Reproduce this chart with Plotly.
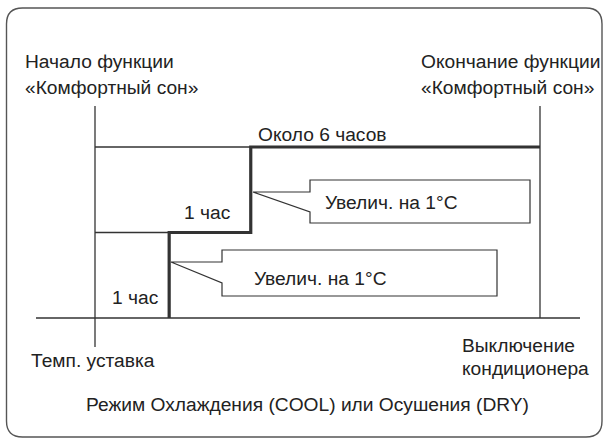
import plotly.graph_objects as go

# ---------------- data ----------------
function_start_h = 0.0          # start of "Comfort sleep"
function_end_h = 6.0            # end (about 6 hours)
step_hours = [1.0, 2.1]         # times of the +1°C rises
step_levels = [0, 1, 2]         # offset from set point, °C
duration_label = "Около 6 часов"
step_labels = ["1 час", "1 час"]
callout_text = "Увелич. на 1°C"

W, H = 607, 444
FONT = "Liberation Sans, Arial, sans-serif"
FS = 19.2
TXT = "#222222"
LINE = "#333333"

# axis scales: hours -> px, degrees -> px
X0, PXH = 95.0, (540.0 - 95.0) / 6.0
Y0, PXD = 318.0, (318.0 - 147.0) / 2.0
xr = [(0 - X0) / PXH, (W - X0) / PXH]
yr = [(Y0 - H) / PXD, Y0 / PXD]


def px(x):
    return x / W


def py(y):
    return 1 - y / H


def h_of(xpix):
    return (xpix - X0) / PXH


def d_of(ypix):
    return (Y0 - ypix) / PXD


fig = go.Figure()

sx = [step_hours[0], step_hours[0], step_hours[1], step_hours[1], function_end_h]
sy = [step_levels[0], step_levels[1], step_levels[1], step_levels[2], step_levels[2]]

thin = dict(color=LINE, width=1.3)
# baseline (set point)
fig.add_trace(go.Scatter(x=[h_of(36), h_of(580)], y=[step_levels[0]] * 2, mode="lines", line=thin, hoverinfo="skip"))
# start / end vertical lines
fig.add_trace(go.Scatter(x=[function_start_h] * 2, y=[d_of(106), d_of(347)], mode="lines", line=thin, hoverinfo="skip"))
fig.add_trace(go.Scatter(x=[function_end_h] * 2, y=[d_of(106), step_levels[0]], mode="lines", line=thin, hoverinfo="skip"))
# thin level guides
fig.add_trace(go.Scatter(x=[function_start_h, step_hours[0]], y=[step_levels[1]] * 2, mode="lines", line=thin, hoverinfo="skip"))
fig.add_trace(go.Scatter(x=[function_start_h, step_hours[1]], y=[step_levels[2]] * 2, mode="lines", line=thin, hoverinfo="skip"))
# thick step
fig.add_trace(go.Scatter(x=sx, y=sy, mode="lines", line=dict(color=LINE, width=3.2), hoverinfo="skip"))

shapes = []


def path(points, close=True):
    s = "M " + " L ".join(f"{px(x):.5f},{py(y):.5f}" for x, y in points)
    return s + (" Z" if close else "")


# rounded outer frame
l, t, r, b, rad = 6.5, 8.0, 602.0, 437.0, 16.0
frame = (
    f"M {px(l + rad):.5f},{py(t):.5f} L {px(r - rad):.5f},{py(t):.5f} "
    f"Q {px(r):.5f},{py(t):.5f} {px(r):.5f},{py(t + rad):.5f} "
    f"L {px(r):.5f},{py(b - rad):.5f} "
    f"Q {px(r):.5f},{py(b):.5f} {px(r - rad):.5f},{py(b):.5f} "
    f"L {px(l + rad):.5f},{py(b):.5f} "
    f"Q {px(l):.5f},{py(b):.5f} {px(l):.5f},{py(b - rad):.5f} "
    f"L {px(l):.5f},{py(t + rad):.5f} "
    f"Q {px(l):.5f},{py(t):.5f} {px(l + rad):.5f},{py(t):.5f} Z"
)
shapes.append(dict(type="path", path=frame, xref="paper", yref="paper", line=dict(color="#555555", width=1.4)))

# callout boxes
c1 = [(310, 180), (530, 180), (530, 223), (310, 223), (310, 212), (253, 192), (310, 192)]
c2 = [(222, 250), (497, 250), (497, 296), (222, 296), (222, 283), (171, 262), (222, 262)]
for c in (c1, c2):
    shapes.append(dict(type="path", path=path(c), xref="paper", yref="paper",
                       line=dict(color=LINE, width=1.2), fillcolor="white", layer="above"))

fig.update_layout(shapes=shapes)

ann = []


def text(x, y, s, anchor="left"):
    ann.append(dict(x=px(x), y=py(y), xref="paper", yref="paper", text=s, showarrow=False,
                    xanchor=anchor, yanchor="middle", font=dict(family=FONT, size=FS, color=TXT)))


text(23, 61, "Начало функции")
text(23, 87, "«Комфортный сон»")
text(419, 61, "Окончание функции")
text(419, 87, "«Комфортный сон»")
text(322, 134, duration_label, "center")
text(207, 212, step_labels[1], "center")
text(135, 297, step_labels[0], "center")
text(392, 202, callout_text, "center")
text(320, 278, callout_text, "center")
text(29, 360, "Темп. уставка")
text(460, 345, "Выключение")
text(460, 368, "кондиционера")
text(307, 404, "Режим Охлаждения (COOL) или Осушения (DRY)", "center")

fig.update_layout(
    annotations=ann,
    width=W, height=H,
    margin=dict(l=0, r=0, t=0, b=0),
    paper_bgcolor="white", plot_bgcolor="white",
    showlegend=False,
    xaxis=dict(range=xr, visible=False, fixedrange=True),
    yaxis=dict(range=yr, visible=False, fixedrange=True),
)

fig.write_html("out.html", config={"displayModeBar": False},
               post_script="document.body.style.margin='0px';document.body.style.overflow='hidden';")
